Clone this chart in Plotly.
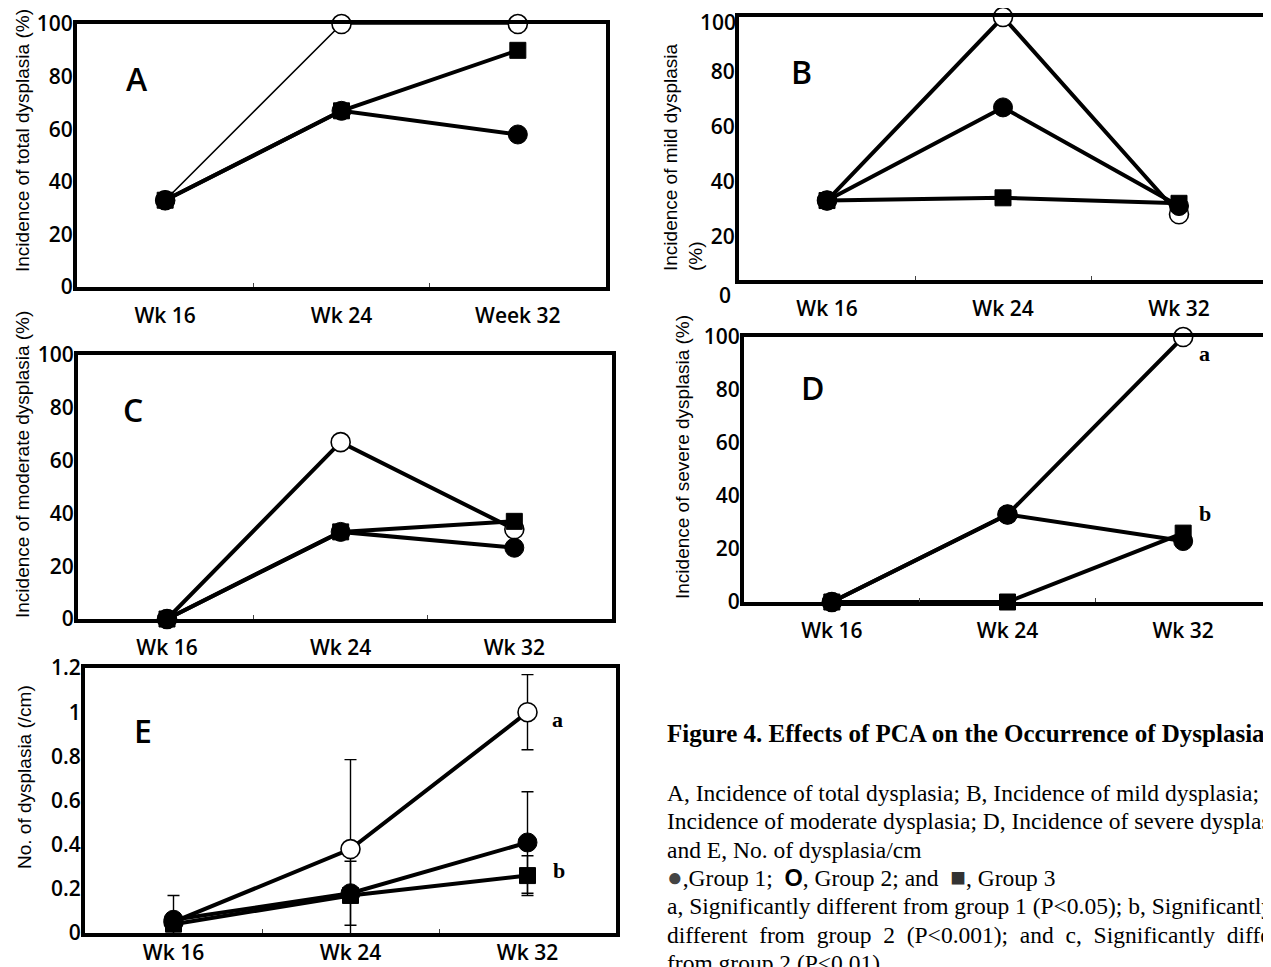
import plotly.graph_objects as go

# page has an 8px body margin; figure is sized so it ends at the window edge
OFF = 8
FW, FH = 1271 - OFF, 967 - OFF

weeks = [16, 24, 32]

# Panel A: incidence of total dysplasia (%)
A_g1 = [33, 67, 58]
A_g2 = [33, 100, 100]
A_g3 = [33, 67, 90]
# Panel B: incidence of mild dysplasia (%)
B_g1 = [33, 67, 31]
B_g2 = [33, 100, 28]
B_g3 = [33, 34, 32]
# Panel C: incidence of moderate dysplasia (%)
C_g1 = [0, 33, 27]
C_g2 = [0, 67, 34]
C_g3 = [0, 33, 37]
# Panel D: incidence of severe dysplasia (%)
D_g1 = [0, 33, 23]
D_g2 = [0, 33, 100]
D_g3 = [0, 0, 26]
# Panel E: No. of dysplasia (/cm) with error bars
E_g1 = [0.06, 0.18, 0.41]
E_g1_up = [0.0, 0.145, 0.23]
E_g1_dn = [0.0, 0.145, 0.23]
E_g2 = [0.05, 0.38, 1.0]
E_g2_up = [0.12, 0.405, 0.17]
E_g2_dn = [0.07, 0.42, 0.17]
E_g3 = [0.04, 0.17, 0.26]
E_g3_up = [0.0, 0.0, 0.09]
E_g3_dn = [0.0, 0.0, 0.09]

pct_ticks = [0, 20, 40, 60, 80, 100]
b_ticks = [20, 40, 60, 80]
b_offaxis_labels = ["100", "0"]   # B's end labels sit just off the frame in the original
e_ticks = [0, 0.2, 0.4, 0.6, 0.8, 1.0, 1.2]
e_ticktext = ["0", "0.2", "0.4", "0.6", "0.8", "1", "1.2"]
wk_labels = ["Wk 16", "Wk 24", "Wk 32"]
wk_labels_A = ["Wk 16", "Wk 24", "Week 32"]


def px(x):
    return (x - OFF) / FW


def py(y):
    return 1 - (y - OFF) / FH


fig = go.Figure()

TICKFONT = dict(family="Open Sans", size=21, color="black", weight=600)
XTICKFONT = dict(family="Open Sans", size=21, color="black", weight=600)

# panel definitions: (axis suffix, x-domain px, y-domain px, xrange, yrange, x-label standoff)
panels = {
    "A": ("", (77, 606), (24, 287), [12, 36], [0, 100.01], 7),
    "B": ("2", (739, 1267), (17, 280), [12, 36], [4, 100.01], 7),
    "C": ("3", (78, 612), (355, 619), [11.9, 36.5], [0, 100.01], 7),
    "D": ("4", (744, 1271), (337, 602), [12, 36], [0, 100.01], 7),
    "E": ("5", (85, 616), (668, 933), [12, 36], [0, 1.2001], -2),
}


def add_series(sfx, y, kind, lw=4, err=None):
    xa = "x" + sfx
    ya = "y" + sfx
    if kind == "open":
        marker = dict(symbol="circle", size=19, color="white", line=dict(color="black", width=1.6))
    elif kind == "filled":
        marker = dict(symbol="circle", size=19, color="black", line=dict(color="black", width=1))
    else:
        marker = dict(symbol="square", size=16, color="black", line=dict(color="black", width=1))
    tr = go.Scatter(
        x=weeks, y=y, xaxis=xa, yaxis=ya, mode="lines+markers",
        line=dict(color="black", width=lw), marker=marker,
        cliponaxis=False, showlegend=False, hoverinfo="skip",
    )
    if err is not None:
        tr.error_y = dict(type="data", symmetric=False, array=err[0], arrayminus=err[1],
                          color="black", thickness=1.4, width=6)
    fig.add_trace(tr)


# A
add_series("", A_g2, "open", lw=1.6)
add_series("", A_g1, "filled")
add_series("", A_g3, "square")
# B
add_series("2", B_g2, "open")
add_series("2", B_g1, "filled")
add_series("2", B_g3, "square")
# C
add_series("3", C_g2, "open")
add_series("3", C_g1, "filled")
add_series("3", C_g3, "square")
# D
add_series("4", D_g2, "open")
add_series("4", D_g3, "square")
add_series("4", D_g1, "filled")
# E
add_series("5", E_g2, "open", err=(E_g2_up, E_g2_dn))
add_series("5", E_g3, "square", err=(E_g3_up, E_g3_dn))
add_series("5", E_g1, "filled", err=(E_g1_up, E_g1_dn))

layout = dict(
    width=FW, height=FH, margin=dict(l=0, r=0, t=0, b=0, pad=0, autoexpand=False),
    paper_bgcolor="white", plot_bgcolor="white", showlegend=False,
    template="none",
)

for name, (sfx, (x0, x1), (y0, y1), xr, yr, xstand) in panels.items():
    xk = "xaxis" + sfx
    yk = "yaxis" + sfx
    layout[xk] = dict(
        domain=[px(x0), px(x1)], range=xr, anchor="y" + sfx,
        tickvals=weeks, ticktext=wk_labels_A if name == "A" else wk_labels,
        showline=True, mirror=True, linewidth=4, linecolor="black",
        showgrid=False, zeroline=False, ticks="", tickfont=XTICKFONT,
        ticklabelstandoff=xstand, fixedrange=True, automargin=False,
        ticklabeloverflow="allow",
        minor=dict(tickvals=[20, 28], ticks="inside", ticklen=4, tickwidth=1,
                   tickcolor="#444", showgrid=False),
    )
    if name == "E":
        tv, tt = e_ticks, e_ticktext
    elif name == "B":
        tv, tt = b_ticks, [str(v) for v in b_ticks]
    else:
        tv, tt = pct_ticks, [str(v) for v in pct_ticks]
    layout[yk] = dict(
        domain=[py(y1), py(y0)], range=yr, anchor="x" + sfx,
        tickvals=tv, ticktext=tt,
        showline=True, mirror=True, linewidth=4, linecolor="black",
        showgrid=False, zeroline=False, ticks="", tickfont=TICKFONT,
        ticklabelstandoff=-4, fixedrange=True, automargin=False,
        ticklabeloverflow="allow",
    )

fig.update_layout(**layout)

ann = []
# panel letters
LETTERFONT = dict(family="Open Sans", size=32, color="black", weight=600)
for letter, (x, y) in {"A": (137, 78), "B": (801, 71), "C": (133, 410),
                       "D": (812, 387), "E": (143, 730)}.items():
    ann.append(dict(text=letter, x=px(x), y=py(y), xref="paper", yref="paper",
                    showarrow=False, font=LETTERFONT, xanchor="center", yanchor="middle"))

# y-axis titles (rotated)
TITLEFONT = dict(family="Liberation Sans", size=19, color="black")
for text, (x, y), align in [
    ("Incidence of total dysplasia (%)", (23, 141), "center"),
    ("Incidence of mild dysplasia<br>(%)", (683, 158), "left"),
    ("Incidence of moderate dysplasia (%)", (22, 465), "center"),
    ("Incidence of severe dysplasia (%)", (682, 457), "center"),
    ("No. of dysplasia (/cm)", (24, 777), "center"),
]:
    ann.append(dict(text=text, x=px(x), y=py(y), xref="paper", yref="paper",
                    showarrow=False, textangle=-90, font=TITLEFONT, align=align,
                    xanchor="center", yanchor="middle"))

# B's "100" and "0" labels sit slightly off the frame in the original
for lbl, (x, y), xa in zip(b_offaxis_labels, [(738, 22), (725, 295)], ["right", "center"]):
    ann.append(dict(text=lbl, x=px(x), y=py(y), xref="paper", yref="paper", showarrow=False,
                    font=TICKFONT, xanchor=xa, yanchor="middle"))

# significance letters
SIGFONT = dict(family="Liberation Serif", size=22, color="black", weight="bold")
for t, (x, y) in [("a", (1204, 353)), ("b", (1205, 513)), ("a", (557, 719)), ("b", (559, 870))]:
    ann.append(dict(text=t, x=px(x), y=py(y), xref="paper", yref="paper", showarrow=False,
                    font=SIGFONT, xanchor="center", yanchor="middle"))

# caption
ann.append(dict(text="<b>Figure 4. Effects of PCA on the Occurrence of Dysplasia</b>",
                x=px(665), y=py(733), xref="paper", yref="paper", showarrow=False,
                font=dict(family="Liberation Serif", size=25, color="black"),
                xanchor="left", yanchor="middle"))
caption_lines = [
    "A, Incidence of total dysplasia; B, Incidence of mild dysplasia; C,",
    "Incidence of moderate dysplasia; D, Incidence of severe dysplasia;",
    "and E, No. of dysplasia/cm",
    "<span style='color:#444;font-size:26px'>●</span>,Group 1;  "
    "<span style='font-family:Liberation Sans;font-weight:bold'>O</span>, Group 2; and  "
    "<span style='color:#333;font-size:26px'>■</span>, Group 3",
    "a, Significantly different from group 1 (P&lt;0.05); b, Significantly",
    "different  from  group  2  (P&lt;0.001);  and  c,  Significantly  different",
    "from group 2 (P&lt;0.01).",
]
for i, line in enumerate(caption_lines):
    ann.append(dict(text=line, x=px(665), y=py(793 + 28.3 * i), xref="paper", yref="paper",
                    showarrow=False, font=dict(family="Liberation Serif", size=23.5, color="black"),
                    xanchor="left", yanchor="middle"))

fig.update_layout(annotations=ann)
fig.write_html("out.html")
